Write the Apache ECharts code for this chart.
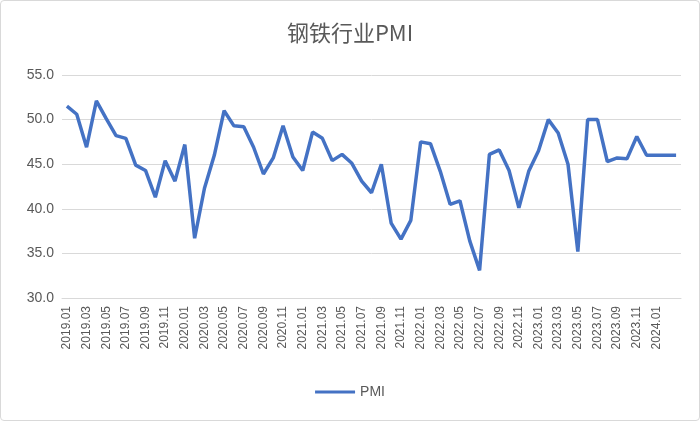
<!DOCTYPE html><html><head><meta charset="utf-8"><script src="https://cdn.jsdelivr.net/npm/echarts@6/dist/echarts.min.js"></script>
<style>html,body{margin:0;padding:0;background:#fff}#c{width:698px;height:419px;border:1px solid #d9d9d9;border-radius:4px}</style></head><body><div id="c"></div><script>
const categories=[];
for(let y=2019;y<=2024;y++)for(let m=1;m<=12;m++){if(y===2024&&m>3)break;categories.push(y+'.'+String(m).padStart(2,'0'));}
const pmi=[51.5,50.6,46.9,52.1,50.1,48.2,47.9,44.9,44.3,41.3,45.4,43.1,
47.2,36.7,42.3,46.0,51.0,49.3,49.2,46.9,43.9,45.7,49.3,45.8,
44.3,48.6,47.9,45.4,46.1,45.1,43.1,41.8,45.0,38.4,36.6,38.7,
47.5,47.3,44.2,40.5,40.9,36.4,33.1,46.1,46.6,44.3,40.1,44.2,
46.5,50.0,48.5,45.0,35.2,50.0,50.0,45.3,45.7,45.6,48.1,46.0,
46.0,46.0,46.0];
const c=echarts.init(document.getElementById('c'));
c.setOption({
title:{text:'钢铁行业PMI',left:'center',top:16,textStyle:{fontSize:22,fontWeight:'normal',color:'#595959',fontFamily:'Noto Sans CJK SC'}},
grid:{left:61,right:18,top:74,bottom:122},
legend:{bottom:16,itemWidth:40,itemHeight:3,icon:'rect',textStyle:{color:'#595959',fontSize:14},data:['PMI']},
xAxis:{type:'category',data:categories,boundaryGap:true,
axisLine:{lineStyle:{color:'#d9d9d9'}},axisTick:{show:false},
axisLabel:{rotate:90,interval:(i)=>i%2===0&&i<categories.length-1,color:'#595959',fontSize:12}},
yAxis:{type:'value',min:30,max:55,interval:5,
axisLabel:{formatter:v=>v.toFixed(1),color:'#595959',fontSize:14},
splitLine:{lineStyle:{color:'#d9d9d9'}},axisLine:{show:false}},
series:[{name:'PMI',type:'line',data:pmi,symbol:'none',lineStyle:{color:'#4472C4',width:3.5},itemStyle:{color:'#4472C4'}}]
});
</script></body></html>
